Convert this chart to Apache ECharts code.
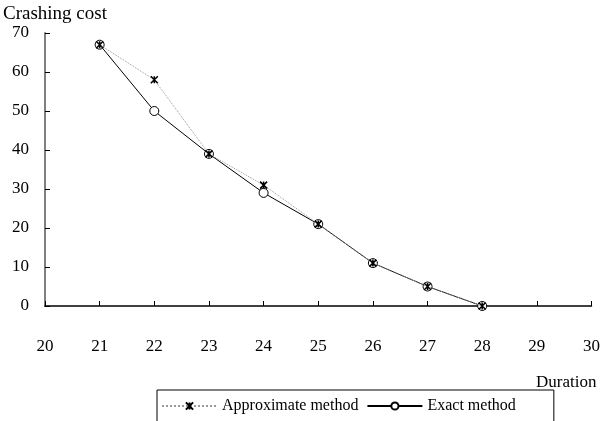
<!DOCTYPE html>
<html>
<head>
<meta charset="utf-8">
<script src="https://cdn.jsdelivr.net/npm/echarts@6/dist/echarts.min.js"></script>
<style>
  html, body { margin: 0; padding: 0; background: #fff; }
  #chart { width: 603px; height: 421px; }
</style>
</head>
<body>
<div id="chart"></div>
<script>
const durations = [21, 22, 23, 24, 25, 26, 27, 28];
const approximate = [67, 58, 39, 31, 21, 11, 5, 0];
const exact = [67, 50, 39, 29, 21, 11, 5, 0];

const font = 'Liberation Serif';
const starPath = 'path://M0,0L10,10M10,0L0,10M5,0L5,10';

const myChart = echarts.init(document.getElementById('chart'));

const option = {
    animation: false,
    textStyle: { fontFamily: font },
    grid: {
        left: 43,
        right: 9,
        top: 33,
        bottom: 115,
        containLabel: false
    },
    xAxis: {
        type: 'value',
        min: 20,
        max: 30,
        interval: 1,
        name: 'Duration',
        nameLocation: 'end',
        nameGap: 0,
        nameTextStyle: {
            color: '#000',
            fontSize: 17,
            align: 'right',
            verticalAlign: 'top',
            padding: [68, -5, 0, 0]
        },
        axisLine: { show: true, lineStyle: { color: '#000', width: 1.5 } },
        axisTick: { show: true, inside: true, length: 5, lineStyle: { color: '#000' } },
        axisLabel: { color: '#000', fontSize: 17, margin: 32 },
        splitLine: { show: false }
    },
    yAxis: {
        type: 'value',
        min: 0,
        max: 70,
        interval: 10,
        name: 'Crashing cost',
        nameLocation: 'end',
        nameGap: 9,
        nameTextStyle: {
            color: '#000',
            fontSize: 19,
            align: 'left',
            padding: [0, 0, 0, -42]
        },
        axisLine: { show: true, lineStyle: { color: '#808080', width: 2 } },
        axisTick: { show: true, inside: true, length: 5, lineStyle: { color: '#000' } },
        axisLabel: { color: '#000', fontSize: 17, margin: 16 },
        splitLine: { show: false }
    },
    legend: {
        left: 157,
        top: 390,
        orient: 'horizontal',
        itemWidth: 55,
        itemHeight: 9,
        itemGap: 8,
        padding: [8, 38, 20, 4],
        borderColor: '#000',
        borderWidth: 1,
        textStyle: { color: '#000', fontSize: 16, fontFamily: font },
        data: ['Approximate method', 'Exact method']
    },
    series: [
        {
            name: 'Approximate method',
            type: 'line',
            data: durations.map((d, i) => [d, approximate[i]]),
            symbol: starPath,
            symbolSize: 7,
            itemStyle: { color: '#fff', borderColor: '#000', borderWidth: 1.5 },
            lineStyle: { color: '#999', width: 1, type: 'dotted' },
            z: 3
        },
        {
            name: 'Exact method',
            type: 'line',
            data: durations.map((d, i) => [d, exact[i]]),
            symbol: 'circle',
            symbolSize: 9,
            itemStyle: { color: '#fff', borderColor: '#000', borderWidth: 1 },
            lineStyle: { color: '#000', width: 1 },
            z: 2
        }
    ]
};

myChart.setOption(option);
</script>
</body>
</html>
